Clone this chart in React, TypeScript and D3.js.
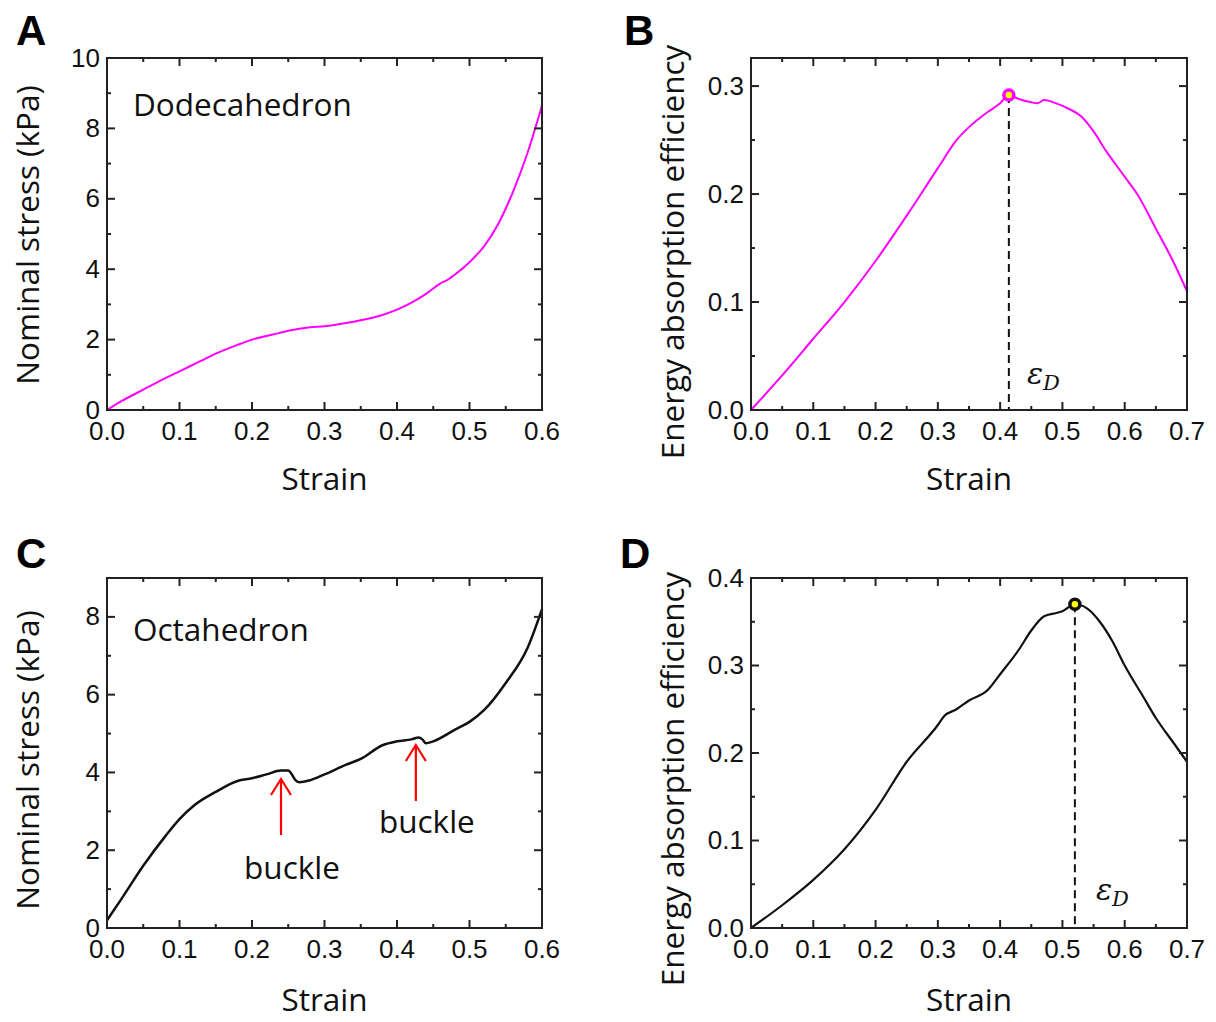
import React from "react";
import * as d3 from "d3";

// Panel A: Dodecahedron stress-strain
const dodecaStrain = [0, 0.02, 0.05, 0.08, 0.1, 0.13, 0.15, 0.18, 0.2, 0.23, 0.25, 0.28, 0.3, 0.33, 0.35, 0.38, 0.4, 0.42, 0.44, 0.46, 0.47, 0.48, 0.5, 0.52, 0.54, 0.56, 0.58, 0.6];
const dodecaStress = [0, 0.25, 0.58, 0.9, 1.1, 1.4, 1.6, 1.85, 2.0, 2.15, 2.25, 2.35, 2.38, 2.47, 2.55, 2.7, 2.85, 3.05, 3.3, 3.6, 3.7, 3.85, 4.2, 4.65, 5.3, 6.2, 7.3, 8.65];

// Panel B: Dodecahedron efficiency
const dodecaEffStrain = [0, 0.05, 0.1, 0.15, 0.2, 0.25, 0.3, 0.33, 0.35, 0.38, 0.4, 0.414, 0.43, 0.45, 0.46, 0.47, 0.49, 0.51, 0.53, 0.55, 0.57, 0.6, 0.62, 0.65, 0.68, 0.7];
const dodecaEff = [0, 0.032, 0.066, 0.1, 0.138, 0.18, 0.224, 0.25, 0.262, 0.276, 0.284, 0.2917, 0.288, 0.285, 0.284, 0.287, 0.284, 0.279, 0.272, 0.258, 0.24, 0.216, 0.2, 0.168, 0.135, 0.11];
const dodecaPeak = [0.414, 0.2917];

// Panel C: Octahedron stress-strain
const octaStrain = [0, 0.02, 0.05, 0.08, 0.1, 0.12, 0.15, 0.18, 0.2, 0.22, 0.24, 0.25, 0.255, 0.26, 0.265, 0.28, 0.3, 0.33, 0.35, 0.38, 0.4, 0.42, 0.43, 0.435, 0.44, 0.45, 0.48, 0.5, 0.52, 0.55, 0.58, 0.6];
const octaStress = [0.2, 0.75, 1.6, 2.35, 2.8, 3.15, 3.5, 3.78, 3.85, 3.95, 4.05, 4.05, 3.95, 3.8, 3.75, 3.8, 3.95, 4.2, 4.35, 4.7, 4.8, 4.85, 4.9, 4.85, 4.75, 4.8, 5.1, 5.3, 5.6, 6.3, 7.2, 8.2];
const buckleStrain = [0.24, 0.426];

// Panel D: Octahedron efficiency
const octaEffStrain = [0, 0.05, 0.1, 0.15, 0.2, 0.25, 0.3, 0.31, 0.33, 0.35, 0.38, 0.4, 0.43, 0.45, 0.47, 0.49, 0.5, 0.52, 0.54, 0.56, 0.58, 0.6, 0.63, 0.65, 0.68, 0.7];
const octaEff = [0, 0.026, 0.055, 0.09, 0.135, 0.19, 0.232, 0.242, 0.25, 0.26, 0.272, 0.29, 0.318, 0.34, 0.356, 0.36, 0.362, 0.37, 0.365, 0.35, 0.328, 0.3, 0.264, 0.24, 0.21, 0.19];
const octaPeak = [0.52, 0.37];

const xTicks06 = [0, 0.1, 0.2, 0.3, 0.4, 0.5, 0.6];
const xTicks07 = [0, 0.1, 0.2, 0.3, 0.4, 0.5, 0.6, 0.7];

const TICK_FONT = "'Liberation Sans', Arial, sans-serif";
const TITLE_FONT = "'Open Sans', 'Noto Sans', sans-serif";
const TITLE_SIZE = 31.5;

type PanelProps = {
  left: number; right: number; top: number; bottom: number;
  xMax: number; yMax: number;
  xMajor: number[]; xMinorStep: number;
  yMajor: number[]; yMinorStep: number; yFmt: (v: number) => string;
  xs: number[]; ys: number[]; color: string; lw: number;
  yTitle: string; letter: string; letterX: number; letterY: number;
  yTitleX: number; yTitleY: number; xTitleY: number;
  children?: (x: d3.ScaleLinear<number, number>, y: d3.ScaleLinear<number, number>) => React.ReactNode;
};

function Panel(p: PanelProps) {
  const x = d3.scaleLinear().domain([0, p.xMax]).range([p.left, p.right]);
  const y = d3.scaleLinear().domain([0, p.yMax]).range([p.bottom, p.top]);
  const pts = p.xs.map((v, i) => [v, p.ys[i]] as [number, number]);
  const line = d3.line<[number, number]>().x(d => x(d[0])).y(d => y(d[1])).curve(d3.curveMonotoneX);
  const xMinor = d3.range(0, p.xMax + 1e-9, p.xMinorStep);
  const yMinor = d3.range(0, p.yMax + 1e-9, p.yMinorStep);
  const major = 8, minor = 4;
  const fmtX = d3.format(".1f");
  return (
    <g>
      <text x={p.letterX} y={p.letterY} fontFamily={TICK_FONT} fontWeight="bold" fontSize={42}>{p.letter}</text>
      <path d={line(pts) || ""} fill="none" stroke={p.color} strokeWidth={p.lw} strokeLinejoin="round" />
      {p.children && p.children(x, y)}
      <rect x={p.left} y={p.top} width={p.right - p.left} height={p.bottom - p.top} fill="none" stroke="#222" strokeWidth={2} />
      {xMinor.map((v, i) => {
        const isMajor = Math.abs(Math.round(v / 0.1) * 0.1 - v) < 1e-6;
        const len = isMajor ? major : minor;
        return (
          <g key={"xm" + i}>
            <line x1={x(v)} x2={x(v)} y1={p.bottom} y2={p.bottom - len} stroke="#222" strokeWidth={2} />
            <line x1={x(v)} x2={x(v)} y1={p.top} y2={p.top + len} stroke="#222" strokeWidth={2} />
          </g>
        );
      })}
      {yMinor.map((v, i) => {
        const isMajor = p.yMajor.some(m => Math.abs(m - v) < 1e-6);
        const len = isMajor ? major : minor;
        return (
          <g key={"ym" + i}>
            <line x1={p.left} x2={p.left + len} y1={y(v)} y2={y(v)} stroke="#222" strokeWidth={2} />
            <line x1={p.right} x2={p.right - len} y1={y(v)} y2={y(v)} stroke="#222" strokeWidth={2} />
          </g>
        );
      })}
      {p.xMajor.map((v, i) => (
        <text key={"xl" + i} x={x(v)} y={p.bottom + 30} textAnchor="middle" fontFamily={TICK_FONT} fontSize={26} fill="#111">{fmtX(v)}</text>
      ))}
      {p.yMajor.map((v, i) => (
        <text key={"yl" + i} x={p.left - 7} y={y(v) + 8.5} textAnchor="end" fontFamily={TICK_FONT} fontSize={26} fill="#111">{p.yFmt(v)}</text>
      ))}
      <text x={(p.left + p.right) / 2} y={p.xTitleY} textAnchor="middle" fontFamily={TITLE_FONT} fontSize={TITLE_SIZE} fill="#111">Strain</text>
      <text transform={`translate(${p.yTitleX},${p.yTitleY}) rotate(-90)`} textAnchor="middle" fontFamily={TITLE_FONT} fontSize={TITLE_SIZE} fill="#111">{p.yTitle}</text>
    </g>
  );
}

function EpsD({ x, y }: { x: number; y: number }) {
  return (
    <text x={x} y={y} fontFamily="'DejaVu Serif', 'Liberation Serif', serif" fontStyle="italic" fontSize={30} fill="#111">
      ε<tspan fontSize={21} dy={6}>D</tspan>
    </text>
  );
}

export default function App() {
  return (
    <svg width={1216} height={1022} style={{ display: "block", position: "absolute", left: 0, top: 0, background: "#fff" }}>
      <Panel left={107} right={542} top={58} bottom={410} xMax={0.6} yMax={10}
        xMajor={xTicks06} xMinorStep={0.05} yMajor={[0, 2, 4, 6, 8, 10]} yMinorStep={1} yFmt={d3.format("d")}
        xs={dodecaStrain} ys={dodecaStress} color="#ff00ff" lw={2}
        yTitle="Nominal stress (kPa)" letter="A" letterX={16} letterY={45}
        yTitleX={39} yTitleY={235} xTitleY={490}>
        {() => (
          <text x={133} y={116} fontFamily={TITLE_FONT} fontSize={TITLE_SIZE} fill="#111">Dodecahedron</text>
        )}
      </Panel>
      <Panel left={751} right={1187} top={58} bottom={410} xMax={0.7} yMax={0.326}
        xMajor={xTicks07} xMinorStep={0.05} yMajor={[0, 0.1, 0.2, 0.3]} yMinorStep={0.05} yFmt={d3.format(".1f")}
        xs={dodecaEffStrain} ys={dodecaEff} color="#ff00ff" lw={2}
        yTitle="Energy absorption efficiency" letter="B" letterX={624} letterY={45}
        yTitleX={684} yTitleY={252} xTitleY={490}>
        {(x, y) => (
          <g>
            <line x1={x(dodecaPeak[0])} x2={x(dodecaPeak[0])} y1={y(dodecaPeak[1])} y2={y(0)} stroke="#111" strokeWidth={2} strokeDasharray="8,5" />
            <circle cx={x(dodecaPeak[0])} cy={y(dodecaPeak[1])} r={5} fill="#ffff00" stroke="#ff00ff" strokeWidth={3.5} />
            <EpsD x={1027} y={384} />
          </g>
        )}
      </Panel>
      <Panel left={107} right={542} top={578} bottom={928} xMax={0.6} yMax={9}
        xMajor={xTicks06} xMinorStep={0.05} yMajor={[0, 2, 4, 6, 8]} yMinorStep={1} yFmt={d3.format("d")}
        xs={octaStrain} ys={octaStress} color="#111" lw={2.5}
        yTitle="Nominal stress (kPa)" letter="C" letterX={16} letterY={568}
        yTitleX={39} yTitleY={760} xTitleY={1011}>
        {(x, y) => (
          <g>
            <text x={133} y={641} fontFamily={TITLE_FONT} fontSize={TITLE_SIZE} fill="#111">Octahedron</text>
            {[{ s: buckleStrain[0], y0: 835, y1: 779, ty: 879 }, { s: buckleStrain[1], y0: 801, y1: 745, ty: 833 }].map((b, i) => (
              <g key={i} stroke="#ff0000" strokeWidth={2.2} fill="none">
                <line x1={x(b.s)} x2={x(b.s)} y1={b.y0} y2={b.y1} />
                <polyline points={`${x(b.s) - 10},${b.y1 + 16} ${x(b.s)},${b.y1} ${x(b.s) + 10},${b.y1 + 16}`} />
                <text x={x(b.s) + 11} y={b.ty} textAnchor="middle" stroke="none" fill="#111" fontFamily={TITLE_FONT} fontSize={TITLE_SIZE}>buckle</text>
              </g>
            ))}
          </g>
        )}
      </Panel>
      <Panel left={751} right={1187} top={578} bottom={928} xMax={0.7} yMax={0.4}
        xMajor={xTicks07} xMinorStep={0.05} yMajor={[0, 0.1, 0.2, 0.3, 0.4]} yMinorStep={0.05} yFmt={d3.format(".1f")}
        xs={octaEffStrain} ys={octaEff} color="#111" lw={2.2}
        yTitle="Energy absorption efficiency" letter="D" letterX={620} letterY={568}
        yTitleX={684} yTitleY={779} xTitleY={1011}>
        {(x, y) => (
          <g>
            <line x1={x(octaPeak[0])} x2={x(octaPeak[0])} y1={y(octaPeak[1])} y2={y(0)} stroke="#111" strokeWidth={2} strokeDasharray="8,5" />
            <circle cx={x(octaPeak[0])} cy={y(octaPeak[1])} r={5} fill="#ffff00" stroke="#111" strokeWidth={3.5} />
            <EpsD x={1096} y={900} />
          </g>
        )}
      </Panel>
    </svg>
  );
}
